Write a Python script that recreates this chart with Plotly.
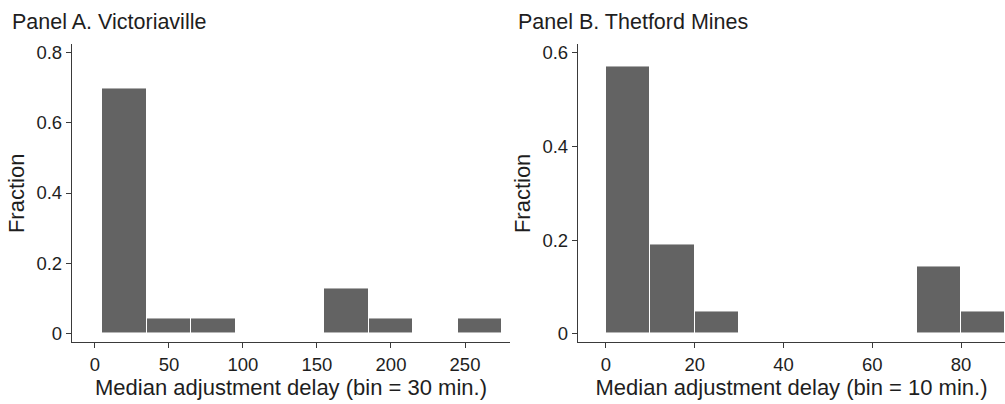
import plotly.graph_objects as go

# Panel A: Victoriaville (bin = 30 min)
a_bin_start = [5, 35, 65, 155, 185, 245]
a_fraction = [0.696, 0.043, 0.043, 0.130, 0.043, 0.043]
a_bin_width = 30
a_xticks = [0, 50, 100, 150, 200, 250]
a_yticks = [0, 0.2, 0.4, 0.6, 0.8]

# Panel B: Thetford Mines (bin = 10 min)
b_bin_start = [0, 10, 20, 70, 80]
b_fraction = [0.571, 0.190, 0.048, 0.143, 0.048]
b_bin_width = 10
b_xticks = [0, 20, 40, 60, 80]
b_yticks = [0, 0.2, 0.4, 0.6]

W, H = 1005, 404
FONT = "Liberation Sans"
BAR = "#636363"
AX = "#3a3a3a"
TXT = "#1e1e1e"

fig = go.Figure()
fig.add_trace(go.Bar(x=a_bin_start, y=a_fraction, width=a_bin_width, offset=0,
                     marker=dict(color=BAR, line=dict(color="white", width=1)),
                     xaxis="x", yaxis="y", showlegend=False))
fig.add_trace(go.Bar(x=b_bin_start, y=b_fraction, width=b_bin_width, offset=0,
                     marker=dict(color=BAR, line=dict(color="white", width=1)),
                     xaxis="x2", yaxis="y2", showlegend=False))

def px_x(p):
    return p / W

def px_y(p):
    return 1 - p / H

ydom = [px_y(343.5), px_y(42)]

common_axis = dict(showgrid=False, zeroline=False, showline=True, linecolor=AX, linewidth=1.3,
                   ticks="outside", tickcolor=AX, tickwidth=1.3,
                   tickfont=dict(family=FONT, size=18.5, color=TXT))

title_font = dict(family=FONT, size=22, color=TXT)

fig.update_layout(
    width=W, height=H,
    margin=dict(l=0, r=0, t=0, b=0),
    paper_bgcolor="white", plot_bgcolor="white",
    bargap=0,
    font=dict(family=FONT, color=TXT),
    xaxis=dict(domain=[px_x(72), px_x(510)], range=[-15.5, 280.4], tickvals=a_xticks,
               ticklen=5, anchor="y",
               title=dict(text="Median adjustment delay (bin = 30 min.)", font=title_font, standoff=6),
               **common_axis),
    yaxis=dict(domain=ydom, range=[-0.024, 0.822], tickvals=a_yticks, ticklen=5, anchor="x",
               title=dict(text="Fraction", font=title_font, standoff=5),
               **common_axis),
    xaxis2=dict(domain=[px_x(578), 1.0], range=[-6.3, 89.9], tickvals=b_xticks,
                ticklen=5, anchor="y2",
                title=dict(text="Median adjustment delay (bin = 10 min.)", font=title_font, standoff=6),
                **common_axis),
    yaxis2=dict(domain=ydom, range=[-0.018, 0.617], tickvals=b_yticks, ticklen=5, anchor="x2",
                title=dict(text="Fraction", font=title_font, standoff=5),
                **common_axis),
    annotations=[
        dict(text="Panel A. Victoriaville", x=px_x(10), y=px_y(19), xref="paper", yref="paper",
             xanchor="left", yanchor="middle", showarrow=False, font=dict(family=FONT, size=21.5, color=TXT)),
        dict(text="Panel B. Thetford Mines", x=px_x(516), y=px_y(19), xref="paper", yref="paper",
             xanchor="left", yanchor="middle", showarrow=False, font=dict(family=FONT, size=21.5, color=TXT)),
    ],
)

fig.write_html("out.html", config={"displayModeBar": False},
               post_script="document.body.style.margin='0';")
